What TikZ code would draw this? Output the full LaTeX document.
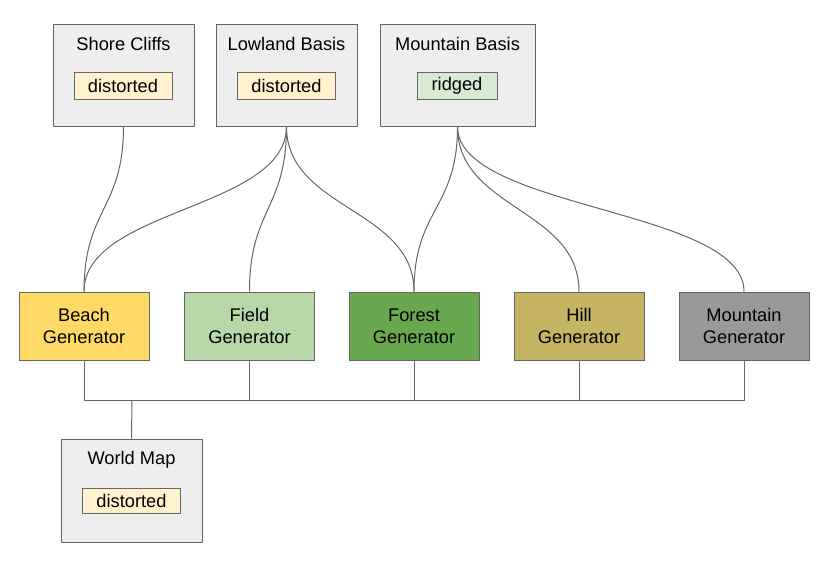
\documentclass[tikz,border=0pt]{standalone}
\usepackage{fontspec}
\setmainfont{Liberation Sans}
\definecolor{boxgray}{HTML}{EEEEEE}
\definecolor{linegray}{HTML}{666666}
\definecolor{tagyellow}{HTML}{FFF2CC}
\definecolor{taggreen}{HTML}{D9EAD3}
\definecolor{beachcol}{HTML}{FFD966}
\definecolor{fieldcol}{HTML}{B6D7A8}
\definecolor{forestcol}{HTML}{6AA84F}
\definecolor{hillcol}{HTML}{C4B463}
\definecolor{mountcol}{HTML}{999999}
\tikzset{
  basis/.style={draw=linegray, fill=boxgray, line width=.75pt, minimum width=105.75pt, minimum height=76.5pt, inner sep=0pt},
  tag/.style={draw=linegray, line width=.75pt, minimum width=73.5pt, minimum height=20.25pt, inner sep=0pt},
  gen/.style={draw=linegray, line width=.75pt, minimum width=97.5pt, minimum height=51pt, inner sep=0pt, align=center},
  link/.style={draw=linegray, line width=.75pt},
}
\begin{document}
\begin{tikzpicture}[x=.75pt, y=-.75pt, font=\fontsize{13.7}{16.5}\selectfont]
	\useasboundingbox (0,0) rectangle (830,572);
	% top inputs
	\node[basis] (shore)  at (123.5,75) {};
	\node[basis] (lowland) at (286.5,75) {};
	\node[basis, minimum width=116.25pt] (mount) at (457.5,75) {};
	\node (shoreT)   at (123.5,44) {Shore Cliffs};
	\node (lowlandT) at (286.5,44) {Lowland Basis};
	\node (mountT)   at (457.5,44) {Mountain Basis};
	\node[tag, fill=tagyellow] (shoreD)   at (123,85.5)   {distorted};
	\node[tag, fill=tagyellow] (lowlandD) at (286.5,85.5) {distorted};
	\node[tag, fill=taggreen, minimum width=60pt] (mountD) at (457,85.5) {ridged};
	% generators
	\node[gen, fill=beachcol]  (beach)  at (84,326)  {Beach\\Generator};
	\node[gen, fill=fieldcol]  (field)  at (249.5,326) {Field\\Generator};
	\node[gen, fill=forestcol] (forest) at (414,326) {Forest\\Generator};
	\node[gen, fill=hillcol]   (hill)   at (579,326) {Hill\\Generator};
	\node[gen, fill=mountcol]  (mountG) at (744,326) {Mountain\\Generator};
	% output
	\node[basis, minimum height=77.25pt] (world) at (131.5,490.5) {};
	\node (worldT) at (131.5,460) {World Map};
	\node[tag, fill=tagyellow, minimum height=18.75pt] (worldD) at (131.5,500.5) {distorted};
	% curves
	\draw[link] (shore.south)   .. controls +(0,83) and +(0,-83) .. (beach.north);
	\draw[link] (lowland.south) .. controls +(0,83) and +(0,-83) .. (beach.north);
	\draw[link] (lowland.south) .. controls +(0,83) and +(0,-83) .. (field.north);
	\draw[link] (lowland.south) .. controls +(0,83) and +(0,-83) .. (forest.north);
	\draw[link] (mount.south)   .. controls +(0,83) and +(0,-83) .. (forest.north);
	\draw[link] (mount.south)   .. controls +(0,83) and +(0,-83) .. (hill.north);
	\draw[link] (mount.south)   .. controls +(0,83) and +(0,-83) .. (mountG.north);
	% bus
	\coordinate (bus) at (132,400);
	\draw[link] (beach.south) |- (mountG.south |- bus) -- (mountG.south);
	\draw[link] (field.south) -- (field.south |- bus);
	\draw[link] (forest.south) -- (forest.south |- bus);
	\draw[link] (hill.south) -- (hill.south |- bus);
	\draw[link] (world.north) -- (bus);
\end{tikzpicture}
\end{document}
